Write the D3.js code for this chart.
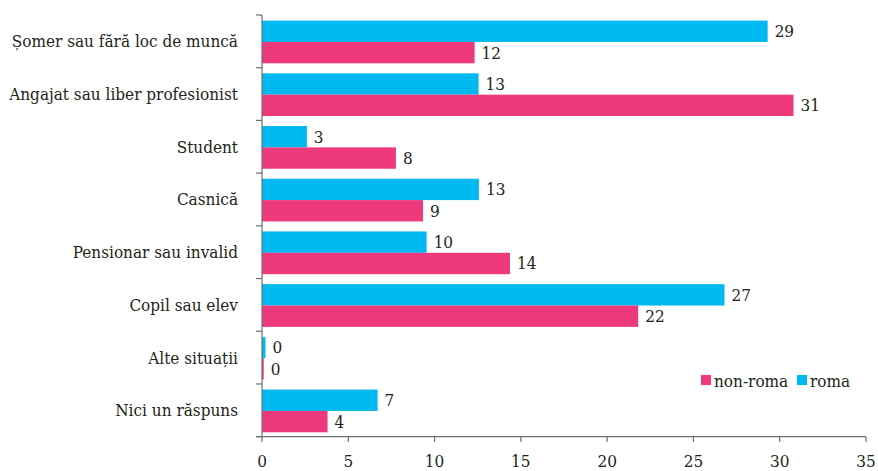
<!DOCTYPE html>
<html><head><meta charset="utf-8">
<script src="https://cdn.jsdelivr.net/npm/d3@7"></script>
<style>body{margin:0;background:#fff}svg{display:block}</style>
</head><body><svg id="c" width="878" height="471" font-family="'DejaVu Serif Condensed', 'DejaVu Serif', serif"></svg>
<script>
const categories = ["Șomer sau fără loc de muncă","Angajat sau liber profesionist","Student","Casnică","Pensionar sau invalid","Copil sau elev","Alte situații","Nici un răspuns"];
const romaValues = [29.3, 12.55, 2.6, 12.57, 9.54, 26.8, 0.2, 6.7];
const nonRomaValues = [12.32, 30.8, 7.76, 9.33, 14.37, 21.8, 0.1, 3.8];
const romaLabels = ["29","13","3","13","10","27","0","7"];
const nonRomaLabels = ["12","31","8","9","14","22","0","4"];
const xTicks = [0,5,10,15,20,25,30,35];
const seriesNames = ["roma","non-roma"];
const colors = {"roma":"#00b9f0","non-roma":"#ee3a7d"};
const textColor = "#231f20";

const svg = d3.select("#c");
const x = d3.scaleLinear().domain([0,35]).range([262,866]);
const y = d3.scaleBand().domain(categories).range([15,436.7]).paddingInner(0).paddingOuter(0);
const inner = d3.scaleBand().domain(seriesNames).range([5.6, y.bandwidth()-4.4]);

const rows = categories.map((c,i)=>({c, vals:[
  {s:"roma", v:romaValues[i], l:romaLabels[i]},
  {s:"non-roma", v:nonRomaValues[i], l:nonRomaLabels[i]}]}));

const g = svg.append("g").selectAll("g").data(rows).join("g")
  .attr("transform", d=>`translate(0,${y(d.c)})`);
g.selectAll("rect").data(d=>d.vals).join("rect")
  .attr("x", x(0)).attr("y", d=>inner(d.s))
  .attr("width", d=>x(d.v)-x(0)).attr("height", inner.bandwidth())
  .attr("fill", d=>colors[d.s]);
g.selectAll("text").data(d=>d.vals).join("text")
  .attr("x", d=>x(d.v)+7).attr("y", d=>inner(d.s)+inner.bandwidth()/2)
  .attr("dy","0.35em").attr("font-size",17).attr("fill",textColor).text(d=>d.l);

// left axis
const yAxis = svg.append("g");
yAxis.append("line").attr("x1",262).attr("x2",262).attr("y1",15).attr("y2",436.7).attr("stroke","#6d6e71").attr("stroke-width",1.2);
const bounds = categories.map(c=>y(c)).concat([y.range()[1]]);
yAxis.selectAll("line.t").data(bounds).join("line").attr("class","t")
  .attr("x1",256).attr("x2",262).attr("y1",d=>d).attr("y2",d=>d).attr("stroke","#6d6e71").attr("stroke-width",1.2);
yAxis.selectAll("text").data(categories).join("text")
  .attr("x",238).attr("y",d=>y(d)+y.bandwidth()/2).attr("dy","0.35em")
  .attr("text-anchor","end").attr("font-size",17).attr("fill",textColor).text(d=>d);

// bottom axis
const xAxis = svg.append("g");
xAxis.append("line").attr("x1",256).attr("x2",866).attr("y1",436.7).attr("y2",436.7).attr("stroke","#6d6e71").attr("stroke-width",1.2);
xAxis.selectAll("line.t").data(xTicks).join("line").attr("class","t")
  .attr("x1",d=>x(d)).attr("x2",d=>x(d)).attr("y1",436.7).attr("y2",442).attr("stroke","#6d6e71").attr("stroke-width",1.2);
xAxis.selectAll("text").data(xTicks).join("text")
  .attr("x",d=>x(d)).attr("y",461).attr("dy","0.35em").attr("text-anchor","middle").attr("font-size",17).attr("fill",textColor).text(d=>d);

// legend
const legend = svg.append("g");
const legItems = [{s:"non-roma",x:701},{s:"roma",x:797}];
legend.selectAll("rect").data(legItems).join("rect")
  .attr("x",d=>d.x).attr("y",375).attr("width",10).attr("height",10).attr("fill",d=>colors[d.s]);
legend.selectAll("text").data(legItems).join("text")
  .attr("x",d=>d.x+13).attr("y",381).attr("dy","0.35em").attr("font-size",17).attr("fill",textColor).text(d=>d.s);
</script></body></html>
